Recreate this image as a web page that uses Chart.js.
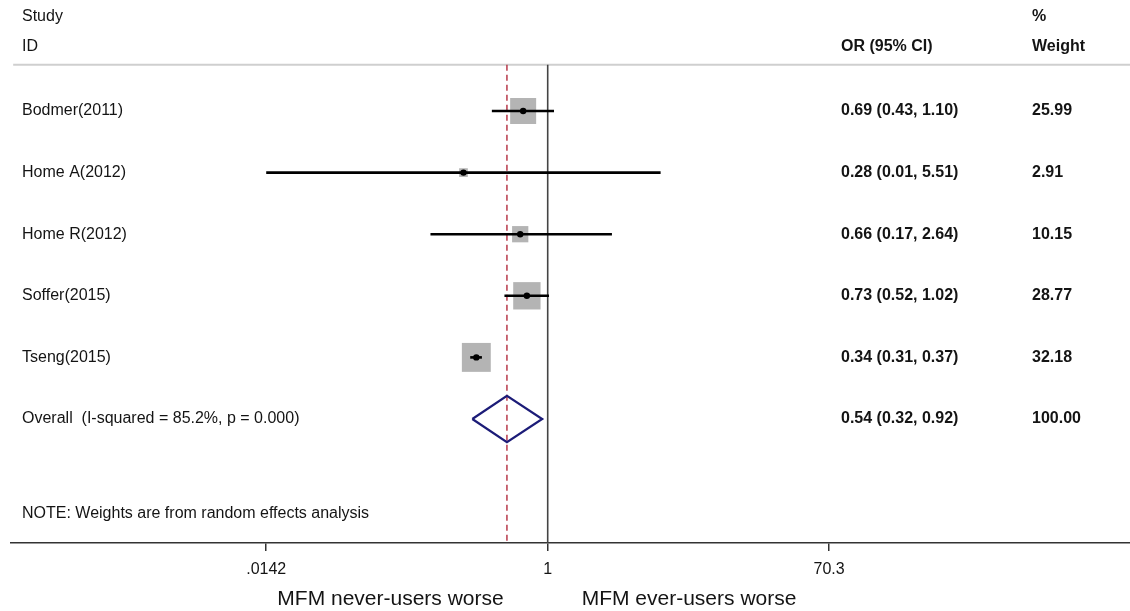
<!DOCTYPE html>
<html>
<head>
<meta charset="utf-8">
<title>Forest plot: MFM use</title>
<script src="https://cdn.jsdelivr.net/npm/chart.js@4.4.1/dist/chart.umd.min.js"></script>
<style>
  html, body { margin: 0; padding: 0; background: #ffffff; }
  canvas { display: block; }
</style>
</head>
<body>
<canvas id="forest" width="1130" height="611"></canvas>
<script>
// ---- Study data (odds ratios, 95% CI, random-effects weights) ----
const studies   = ['Bodmer(2011)', 'Home A(2012)', 'Home R(2012)', 'Soffer(2015)', 'Tseng(2015)'];
const oddsRatio = [0.69, 0.28, 0.66, 0.73, 0.34];
const ciLower   = [0.43, 0.0142, 0.17, 0.52, 0.31];
const ciUpper   = [1.10, 5.51, 2.64, 1.02, 0.37];
const weights   = [25.99, 2.91, 10.15, 28.77, 32.18];

// ---- Pooled estimate ----
const overallLabel  = 'Overall  (I-squared = 85.2%, p = 0.000)';
const overallOR     = 0.54;
const overallLower  = 0.32;
const overallUpper  = 0.92;
const overallWeight = 100.00;

// ---- Axis ticks and captions ----
const tickValues = [0.0142, 1, 70.3];
const tickLabels = ['.0142', '1', '70.3'];
const noteText   = 'NOTE: Weights are from random effects analysis';
const leftCaption  = 'MFM never-users worse';
const rightCaption = 'MFM ever-users worse';

// ---- Layout constants (row positions in y-units, text columns in px) ----
const FONT = '"Liberation Sans", Arial, Helvetica, sans-serif';
const ROW_STUDY_HDR = -1.54, ROW_ID_HDR = -1.04, ROW_RULE = -0.75;
const ROW_OVERALL = studies.length, ROW_NOTE = 6.53;
const Y_MIN = -1.802, Y_MAX = 7.013;
const X_MIN = 3.1e-4, X_MAX = 6640;
const COL_LABEL = 22, COL_OR = 841, COL_WEIGHT = 1032;
const TEXT_COLOR = '#141414';

const fmt = v => v.toFixed(2);

// ---- Datasets ----
const datasets = [];

// centre dots (drawn on top)
datasets.push({
  label: 'estimate',
  data: studies.map((s, i) => ({ x: oddsRatio[i], y: i })),
  pointStyle: 'circle',
  pointRadius: 3.2,
  backgroundColor: '#000000',
  borderColor: '#000000',
  borderWidth: 0,
  showLine: false
});

// confidence interval lines
studies.forEach((s, i) => {
  datasets.push({
    label: 'ci-' + i,
    data: [{ x: ciLower[i], y: i }, { x: ciUpper[i], y: i }],
    showLine: true,
    borderColor: '#000000',
    borderWidth: 2.6,
    pointRadius: 0,
    borderCapStyle: 'butt'
  });
});

// weight boxes (area proportional to weight)
datasets.push({
  label: 'weight',
  data: studies.map((s, i) => ({ x: oddsRatio[i], y: i })),
  pointStyle: 'rect',
  pointRadius: weights.map(w => 5.1 * Math.sqrt(w) / Math.SQRT2),
  backgroundColor: '#b4b4b4',
  borderColor: '#b4b4b4',
  borderWidth: 0,
  showLine: false
});

// pooled diamond
datasets.push({
  label: 'overall',
  data: [
    { x: overallLower, y: ROW_OVERALL },
    { x: overallOR, y: ROW_OVERALL - 0.375 },
    { x: overallUpper, y: ROW_OVERALL },
    { x: overallOR, y: ROW_OVERALL + 0.375 },
    { x: overallLower, y: ROW_OVERALL }
  ],
  showLine: true,
  borderColor: '#1c1c78',
  borderWidth: 2.2,
  borderJoinStyle: 'miter',
  pointRadius: 0,
  fill: false
});

// pooled-estimate dashed line
datasets.push({
  label: 'pooled-line',
  data: [{ x: overallOR, y: ROW_RULE }, { x: overallOR, y: Y_MAX }],
  showLine: true,
  borderColor: '#b83a4b',
  borderWidth: 1.5,
  borderDash: [6, 4],
  pointRadius: 0
});

// line of no effect
datasets.push({
  label: 'null-line',
  data: [{ x: 1, y: ROW_RULE }, { x: 1, y: Y_MAX }],
  showLine: true,
  borderColor: '#444444',
  borderWidth: 1.6,
  pointRadius: 0
});

// header rule
datasets.push({
  label: 'header-rule',
  data: [{ x: X_MIN, y: ROW_RULE }, { x: X_MAX, y: ROW_RULE }],
  showLine: true,
  borderColor: '#cfcfcf',
  borderWidth: 2,
  pointRadius: 0
});

// ---- Text columns and axis captions ----
const tablePlugin = {
  id: 'forestTable',
  afterDatasetsDraw(chart) {
    const { ctx, scales } = chart;
    const ys = scales.y, xs = scales.x;
    const py = v => ys.getPixelForValue(v);
    ctx.save();
    ctx.fillStyle = TEXT_COLOR;
    ctx.textBaseline = 'middle';
    ctx.textAlign = 'left';

    // headers
    ctx.font = '16px ' + FONT;
    ctx.fillText('Study', COL_LABEL, py(ROW_STUDY_HDR));
    ctx.fillText('ID', COL_LABEL, py(ROW_ID_HDR));
    ctx.font = 'bold 16px ' + FONT;
    ctx.fillText('OR (95% CI)', COL_OR, py(ROW_ID_HDR));
    ctx.fillText('%', COL_WEIGHT, py(ROW_STUDY_HDR));
    ctx.fillText('Weight', COL_WEIGHT, py(ROW_ID_HDR));

    // study rows
    studies.forEach((s, i) => {
      ctx.font = '16px ' + FONT;
      ctx.fillText(s, COL_LABEL, py(i));
      ctx.font = 'bold 16px ' + FONT;
      ctx.fillText(`${fmt(oddsRatio[i])} (${fmt(ciLower[i])}, ${fmt(ciUpper[i])})`, COL_OR, py(i));
      ctx.fillText(fmt(weights[i]), COL_WEIGHT, py(i));
    });

    // overall row
    ctx.font = '16px ' + FONT;
    ctx.fillText(overallLabel, COL_LABEL, py(ROW_OVERALL));
    ctx.font = 'bold 16px ' + FONT;
    ctx.fillText(`${fmt(overallOR)} (${fmt(overallLower)}, ${fmt(overallUpper)})`, COL_OR, py(ROW_OVERALL));
    ctx.fillText(fmt(overallWeight), COL_WEIGHT, py(ROW_OVERALL));

    // note
    ctx.font = '16px ' + FONT;
    ctx.fillText(noteText, COL_LABEL, py(ROW_NOTE));

    // favours captions either side of the null line
    const x1 = xs.getPixelForValue(1);
    ctx.font = '21px ' + FONT;
    ctx.textAlign = 'right';
    ctx.fillText(leftCaption, x1 - 44, 599);
    ctx.textAlign = 'left';
    ctx.fillText(rightCaption, x1 + 34, 599);
    ctx.restore();
  }
};

new Chart(document.getElementById('forest'), {
  type: 'scatter',
  data: { datasets },
  plugins: [tablePlugin],
  options: {
    responsive: false,
    animation: false,
    events: [],
    layout: { autoPadding: false, padding: { left: 11, right: 0, top: 0, bottom: 0 } },
    plugins: { legend: { display: false }, tooltip: { enabled: false } },
    elements: { line: { tension: 0 } },
    scales: {
      x: {
        type: 'logarithmic',
        min: X_MIN,
        max: X_MAX,
        afterBuildTicks: scale => { scale.ticks = tickValues.map(v => ({ value: v })); },
        afterFit: scale => { scale.height = 68; },
        ticks: {
          autoSkip: false,
          maxRotation: 0,
          padding: 9,
          color: TEXT_COLOR,
          font: { family: FONT, size: 16 },
          callback: (value) => {
            const k = tickValues.indexOf(value);
            return k >= 0 ? tickLabels[k] : '';
          }
        },
        grid: {
          display: true,
          drawOnChartArea: false,
          drawTicks: true,
          tickLength: 8,
          color: '#333333',
          lineWidth: 1.5
        },
        border: { display: true, color: '#333333', width: 1.6 }
      },
      y: {
        type: 'linear',
        display: false,
        reverse: true,
        min: Y_MIN,
        max: Y_MAX
      }
    }
  }
});
</script>
</body>
</html>
